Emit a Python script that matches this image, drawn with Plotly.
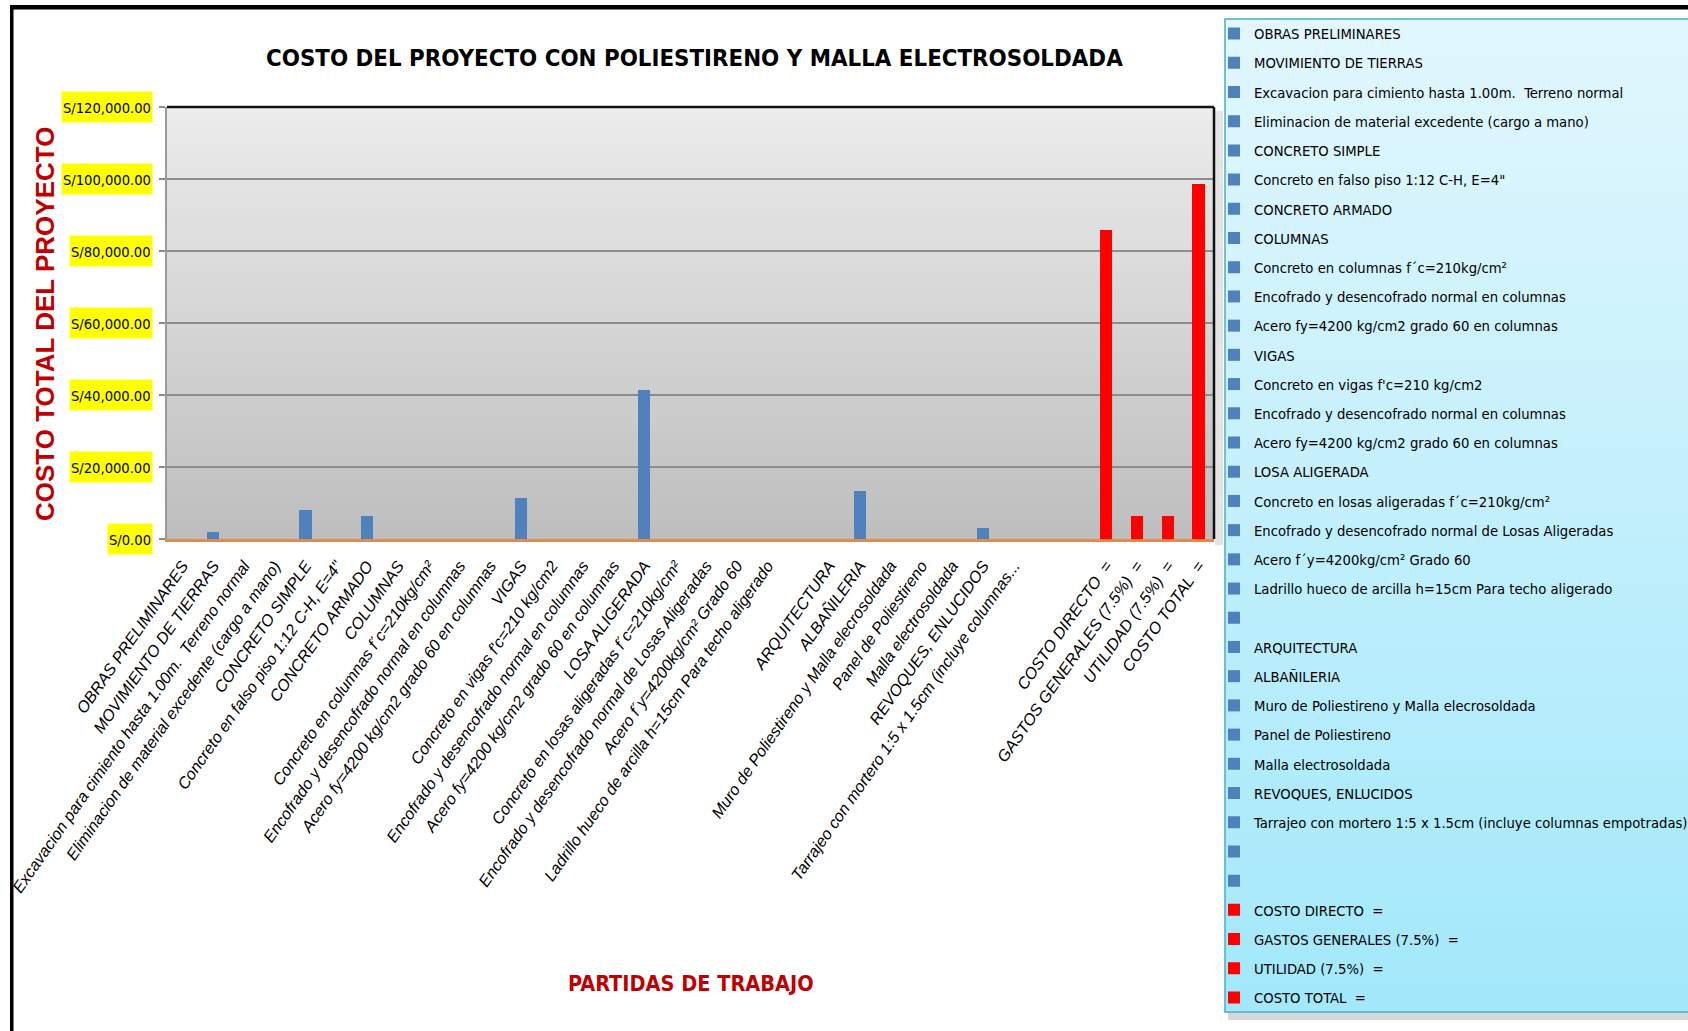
import plotly.graph_objects as go

# ---------------- data ----------------
partidas = [
    "OBRAS PRELIMINARES",
    "MOVIMIENTO DE TIERRAS",
    "Excavacion para cimiento hasta 1.00m.  Terreno normal",
    "Eliminacion de material excedente (cargo a mano)",
    "CONCRETO SIMPLE",
    "Concreto en falso piso 1:12 C-H, E=4\"",
    "CONCRETO ARMADO",
    "COLUMNAS",
    "Concreto en columnas f´c=210kg/cm²",
    "Encofrado y desencofrado normal en columnas",
    "Acero fy=4200 kg/cm2 grado 60 en columnas",
    "VIGAS",
    "Concreto en vigas f'c=210 kg/cm2",
    "Encofrado y desencofrado normal en columnas",
    "Acero fy=4200 kg/cm2 grado 60 en columnas",
    "LOSA ALIGERADA",
    "Concreto en losas aligeradas f´c=210kg/cm²",
    "Encofrado y desencofrado normal de Losas Aligeradas",
    "Acero f´y=4200kg/cm² Grado 60",
    "Ladrillo hueco de arcilla h=15cm Para techo aligerado",
    "",
    "ARQUITECTURA",
    "ALBAÑILERIA",
    "Muro de Poliestireno y Malla elecrosoldada",
    "Panel de Poliestireno",
    "Malla electrosoldada",
    "REVOQUES, ENLUCIDOS",
    "Tarrajeo con mortero 1:5 x 1.5cm (incluye columnas empotradas)",
    "",
    "",
]
costos_partidas = [
    0, 2050, 0, 0, 7950, 0, 6450, 0, 0, 0,
    0, 11450, 0, 0, 0, 41500, 0, 0, 0, 0,
    0, 0, 13400, 0, 0, 0, 3050, 0, 0, 0,
]
resumen = [
    "COSTO DIRECTO  =",
    "GASTOS GENERALES (7.5%)  =",
    "UTILIDAD (7.5%)  =",
    "COSTO TOTAL  =",
]
costos_resumen = [85850, 6440, 6440, 98730]

# axis tick texts (the long one is shortened on the axis)
etiquetas_eje = list(partidas)
etiquetas_eje[27] = "Tarrajeo con mortero 1:5 x 1.5cm (incluye columnas..."
etiquetas_eje += resumen

valores_eje_y = [0, 20000, 40000, 60000, 80000, 100000, 120000]
etiquetas_eje_y = ["S/0.00", "S/20,000.00", "S/40,000.00", "S/60,000.00",
                   "S/80,000.00", "S/100,000.00", "S/120,000.00"]

# ---------------- style ----------------
W, H = 1688, 1031
PL, PR, PT, PB = 167, 1214, 107, 539     # plot area in pixels
NARROW = "DejaVu Sans Condensed, Liberation Sans Narrow, Liberation Sans, sans-serif"
ARIAL = "Liberation Sans, Arial, sans-serif"
AZUL = "#4F81BD"
ROJO = "#FF0000"
GRANATE = "#C00000"


def px(x):
    return (x - PL) / (PR - PL)


def py(y):
    return (PB - y) / (PB - PT)


fig = go.Figure()

todas = partidas + resumen
valores = costos_partidas + costos_resumen
for i, (nombre, valor) in enumerate(zip(todas, valores)):
    es_resumen = i >= len(partidas)
    fig.add_trace(go.Bar(
        x=[i], y=[valor], name=nombre, width=0.4,
        legendgroup=f"g{i}",
        marker=dict(color=ROJO if es_resumen else AZUL, line=dict(width=0)),
        showlegend=True,
    ))

shapes = []
# plot-area vertical gradient
N = 60
for k in range(N):
    t = (k + 0.5) / N
    c = int(round(236 + (190 - 236) * t))
    shapes.append(dict(type="rect", xref="x domain", yref="y domain",
                       x0=0, x1=1, y0=1 - (k + 1) / N, y1=1 - k / N + 0.002,
                       fillcolor=f"rgb({c},{c},{c})", line=dict(width=0), layer="below"))
# legend box gradient
LX0, LX1, LY0, LY1 = 1225, 1700, 19, 1012
M = 60
for k in range(M):
    t = (k + 0.5) / M
    r = int(round(226 + (162 - 226) * t))
    g = int(round(247 + (232 - 247) * t))
    b = int(round(253 + (251 - 253) * t))
    ya = LY0 + (LY1 - LY0) * k / M
    yb = LY0 + (LY1 - LY0) * (k + 1) / M + 1
    shapes.append(dict(type="rect", xref="paper", yref="paper",
                       x0=px(LX0), x1=px(LX1), y0=py(yb), y1=py(ya),
                       fillcolor=f"rgb({r},{g},{b})", line=dict(width=0), layer="below"))
# legend shadow + border
shapes.append(dict(type="rect", xref="paper", yref="paper",
                   x0=px(LX0 + 3), x1=px(LX1), y0=py(LY1 + 8), y1=py(LY1),
                   fillcolor="#d8d8d8", line=dict(width=0), layer="below"))
shapes.append(dict(type="rect", xref="paper", yref="paper",
                   x0=px(LX0), x1=px(LX1), y0=py(LY1), y1=py(LY0),
                   fillcolor="rgba(0,0,0,0)", line=dict(color="#4BACC6", width=1.5), layer="below"))
# plot frame: top + right dark, shadow on the right
shapes.append(dict(type="rect", xref="paper", yref="paper",
                   x0=px(PR + 1), x1=px(PR + 9), y0=py(PB + 6), y1=py(PT + 4),
                   fillcolor="#e4e4e4", line=dict(width=0), layer="below"))
shapes.append(dict(type="line", xref="paper", yref="paper",
                   x0=0, x1=1, y0=1, y1=1, line=dict(color="#111111", width=2.5), layer="above"))
shapes.append(dict(type="line", xref="paper", yref="paper",
                   x0=1, x1=1, y0=0, y1=1, line=dict(color="#111111", width=2.5), layer="above"))
# page frame (white margin, thick black top, black left line)
shapes.append(dict(type="rect", xref="paper", yref="paper",
                   x0=px(-20), x1=px(10), y0=py(H + 20), y1=py(-20),
                   fillcolor="white", line=dict(width=0), layer="above"))
shapes.append(dict(type="rect", xref="paper", yref="paper",
                   x0=px(-20), x1=px(W + 20), y0=py(5), y1=py(-20),
                   fillcolor="white", line=dict(width=0), layer="above"))
shapes.append(dict(type="rect", xref="paper", yref="paper",
                   x0=px(10), x1=px(W + 20), y0=py(9.5), y1=py(5),
                   fillcolor="black", line=dict(width=0), layer="above"))
shapes.append(dict(type="rect", xref="paper", yref="paper",
                   x0=px(10), x1=px(13.5), y0=py(H + 20), y1=py(5),
                   fillcolor="black", line=dict(width=0), layer="above"))

annotations = []
for v, lab in zip(valores_eje_y, etiquetas_eje_y):
    annotations.append(dict(x=px(153), xref="paper", y=v, yref="y",
                            xanchor="right", yanchor="middle", text=lab, showarrow=False,
                            bgcolor="#FFFF00", borderpad=1, height=28,
                            font=dict(family=NARROW, size=14.6, color="black")))
annotations.append(dict(x=px(694), y=py(58), xref="paper", yref="paper",
                        text="<b>COSTO DEL PROYECTO CON POLIESTIRENO Y MALLA ELECTROSOLDADA</b>",
                        showarrow=False, xanchor="center", yanchor="middle",
                        font=dict(family=NARROW, size=23.8, color="black")))
annotations.append(dict(x=px(691), y=py(983), xref="paper", yref="paper",
                        text="<b>PARTIDAS DE TRABAJO</b>",
                        showarrow=False, xanchor="center", yanchor="middle",
                        font=dict(family=NARROW, size=21.5, color=GRANATE)))
annotations.append(dict(x=px(45), y=py(324), xref="paper", yref="paper",
                        text="<b>COSTO TOTAL DEL PROYECTO</b>", textangle=-90,
                        showarrow=False, xanchor="center", yanchor="middle",
                        font=dict(family=ARIAL, size=26, color=GRANATE)))

fig.update_layout(
    width=W, height=H,
    margin=dict(l=PL, r=W - PR, t=PT, b=H - PB, autoexpand=False),
    paper_bgcolor="white", plot_bgcolor="rgba(0,0,0,0)",
    barmode="overlay",
    bargap=0,
    showlegend=True,
    legend=dict(x=px(1214), y=py(17.5), xanchor="left", yanchor="top",
                bgcolor="rgba(0,0,0,0)", borderwidth=0,
                font=dict(family=NARROW, size=14.7, color="black"),
                traceorder="grouped", tracegroupgap=7.1, itemwidth=30,
                maxheight=1.0),
    xaxis=dict(range=[-0.5, len(todas) - 0.5],
               tickmode="array", tickvals=list(range(len(todas))), ticktext=etiquetas_eje,
               tickangle=-55, ticks="", ticklabelstandoff=8,
               tickfont=dict(family=ARIAL, size=16.2, color="black", style="italic"),
               showline=True, linecolor="#E38B4C", linewidth=3,
               showgrid=False, zeroline=False, fixedrange=True),
    yaxis=dict(range=[0, 120000], tickmode="array", tickvals=valores_eje_y,
               showticklabels=False, ticks="outside", ticklen=6, tickcolor="#8c8c8c", tickwidth=1.5,
               showgrid=True, gridcolor="#8c8c8c", gridwidth=1.6,
               showline=True, linecolor="#9a9a9a", linewidth=1.5,
               zeroline=False, fixedrange=True),
    shapes=shapes,
    annotations=annotations,
)

fig.write_html(
    "out.html",
    config={"displayModeBar": False},
    post_script="document.body.style.margin='0px';document.body.style.overflow='hidden';",
)
